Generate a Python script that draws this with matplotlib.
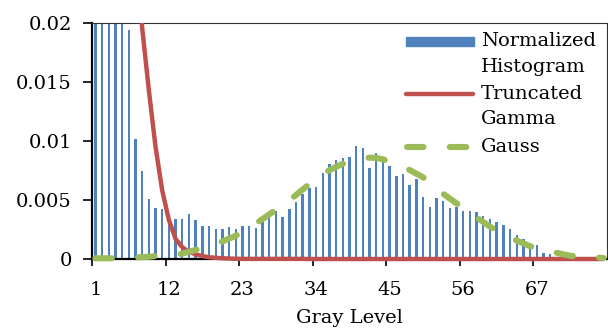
import matplotlib
matplotlib.use("Agg")
import matplotlib.pyplot as plt
from matplotlib.lines import Line2D
from matplotlib.patches import Rectangle

plt.rcParams['font.family'] = 'DejaVu Serif'
plt.rcParams['font.size'] = 14

# gray levels 1..77 (category axis)
gray_levels = list(range(1, 78))

# normalized histogram (first bars run off the top of the plot)
hist = [0.045, 0.058, 0.062, 0.055, 0.038, 0.0194, 0.0102, 0.0075, 0.0051, 0.00435,
        0.0042, 0.0034, 0.0034, 0.0034, 0.0038, 0.0033, 0.0028, 0.0028, 0.00257, 0.00257,
        0.0027, 0.00252, 0.00277, 0.00277, 0.00265, 0.00314, 0.00364, 0.00411, 0.00353, 0.00421,
        0.00486, 0.00551, 0.0060, 0.00613, 0.00725, 0.00805, 0.00843, 0.00858, 0.00862, 0.00956,
        0.00939, 0.00771, 0.00896, 0.00841, 0.00788, 0.00703, 0.00719, 0.00627, 0.00676, 0.00524,
        0.00443, 0.0052, 0.00493, 0.00431, 0.00438, 0.00404, 0.00404, 0.00398, 0.00364, 0.00343,
        0.00312, 0.0029, 0.00251, 0.00205, 0.00171, 0.00102, 0.00115, 0.00051, 0.00039, 0.00015,
        0.0001, 0.00005, 0.00003, 0.00002, 0.00001, 0.00001, 0.0]

trunc_gamma = [0.30, 0.16, 0.10, 0.068, 0.048, 0.036, 0.027, 0.0196, 0.0143, 0.0095,
               0.0058, 0.0033, 0.0017, 0.0010, 0.0006, 0.0004, 0.00025, 0.00015, 0.0001, 0.00006,
               0.00004, 0.00002] + [0.00001] * 10 + [0.0] * 45

gauss = [0.00006, 0.00006, 0.00006, 0.00006, 0.00008, 0.00009, 0.00013, 0.00016, 0.00019, 0.00025,
         0.00028, 0.00031, 0.00033, 0.00045, 0.00061, 0.00077, 0.00095, 0.00112, 0.00129, 0.00149,
         0.00173, 0.00197, 0.00231, 0.00265, 0.0030, 0.00339, 0.00378, 0.00418, 0.00458, 0.00497,
         0.00542, 0.00589, 0.00634, 0.00676, 0.00719, 0.00753, 0.00781, 0.00807, 0.00822, 0.00836,
         0.0085, 0.00859, 0.00856, 0.00845, 0.00824, 0.00802, 0.00781, 0.00754, 0.00723, 0.00692,
         0.00645, 0.00597, 0.00553, 0.00512, 0.00472, 0.00432, 0.00392, 0.00352, 0.00313, 0.00274,
         0.00241, 0.00211, 0.00181, 0.00156, 0.00132, 0.00108, 0.00092, 0.00078, 0.00064, 0.00052,
         0.00039, 0.00027, 0.00023, 0.00019, 0.00017, 0.00013, 0.00008]

xtick_labels = ['1', '12', '23', '34', '45', '56', '67']
ytick_values = [0, 0.005, 0.01, 0.015, 0.02]
ytick_labels = ['0', '0.005', '0.01', '0.015', '0.02']
legend_labels = [['Normalized', 'Histogram'], ['Truncated', 'Gamma'], ['Gauss']]

blue = '#4F81BD'
red = '#C0504D'
green = '#9BBB59'

W, H = 608, 329
fig = plt.figure(figsize=(W / 100, H / 100), dpi=100)
ax = fig.add_axes([92 / W, 70 / H, 515 / W, 236 / H])

ax.bar(gray_levels, hist, width=0.36, color=blue, zorder=2)

# lines may spill over the x axis like in excel, but not over the top
clip = Rectangle((0, -0.1), 1, 1.1, transform=ax.transAxes)
red_line, = ax.plot(gray_levels, trunc_gamma, color=red, lw=3.2, zorder=4,
                    solid_capstyle='butt')
red_line.set_clip_path(clip)
green_line, = ax.plot(gray_levels, gauss, color=green, lw=4.4, zorder=5,
                      linestyle=(0, (2.7, 4.3)), dash_capstyle='round')
green_line.set_clip_path(clip)

ax.set_xlim(0.5, len(gray_levels) + 0.5)
ax.set_ylim(0, 0.02)

# excel category axis: ticks between categories, labels on categories
label_pos = [int(t) for t in xtick_labels]
ax.set_xticks([p - 0.5 for p in label_pos])
ax.set_xticklabels([])
ax.set_xticks(label_pos, minor=True)
ax.set_xticklabels(xtick_labels, minor=True)
ax.tick_params(axis='x', which='major', direction='out', length=5, width=1.2)
ax.tick_params(axis='x', which='minor', length=0, pad=16)
ax.set_yticks(ytick_values)
ax.set_yticklabels(ytick_labels)
ax.tick_params(axis='y', direction='out', length=6.5, width=1.2, pad=8)
ax.set_xlabel('Gray Level', labelpad=7)

for side in ['left', 'bottom']:
    ax.spines[side].set_linewidth(1.6)
    ax.spines[side].set_color('black')
for side in ['top', 'right']:
    ax.spines[side].set_linewidth(0.8)
    ax.spines[side].set_color('#333333')


# legend drawn by hand, in figure pixels from the top left
def fx(x):
    return x / W


def fy(y):
    return 1 - y / H


fig.patches.append(Rectangle((fx(406), fy(46)), fx(68), 9 / H, color=blue,
                             transform=fig.transFigure))
fig.lines.append(Line2D([fx(406), fx(473)], [fy(94), fy(94)], color=red, lw=3.2,
                        solid_capstyle='round', transform=fig.transFigure))
fig.lines.append(Line2D([fx(407), fx(467)], [fy(147), fy(147)], color=green, lw=4.4,
                        linestyle=(0, (2.7, 4.3)), dash_capstyle='round',
                        transform=fig.transFigure))
rows = [41, 94, 147]
for lines, y0 in zip(legend_labels, rows):
    for i, txt in enumerate(lines):
        fig.text(fx(481), fy(y0 + i * 25.5), txt, ha='left', va='center')

fig.savefig('out.png', dpi=100)
